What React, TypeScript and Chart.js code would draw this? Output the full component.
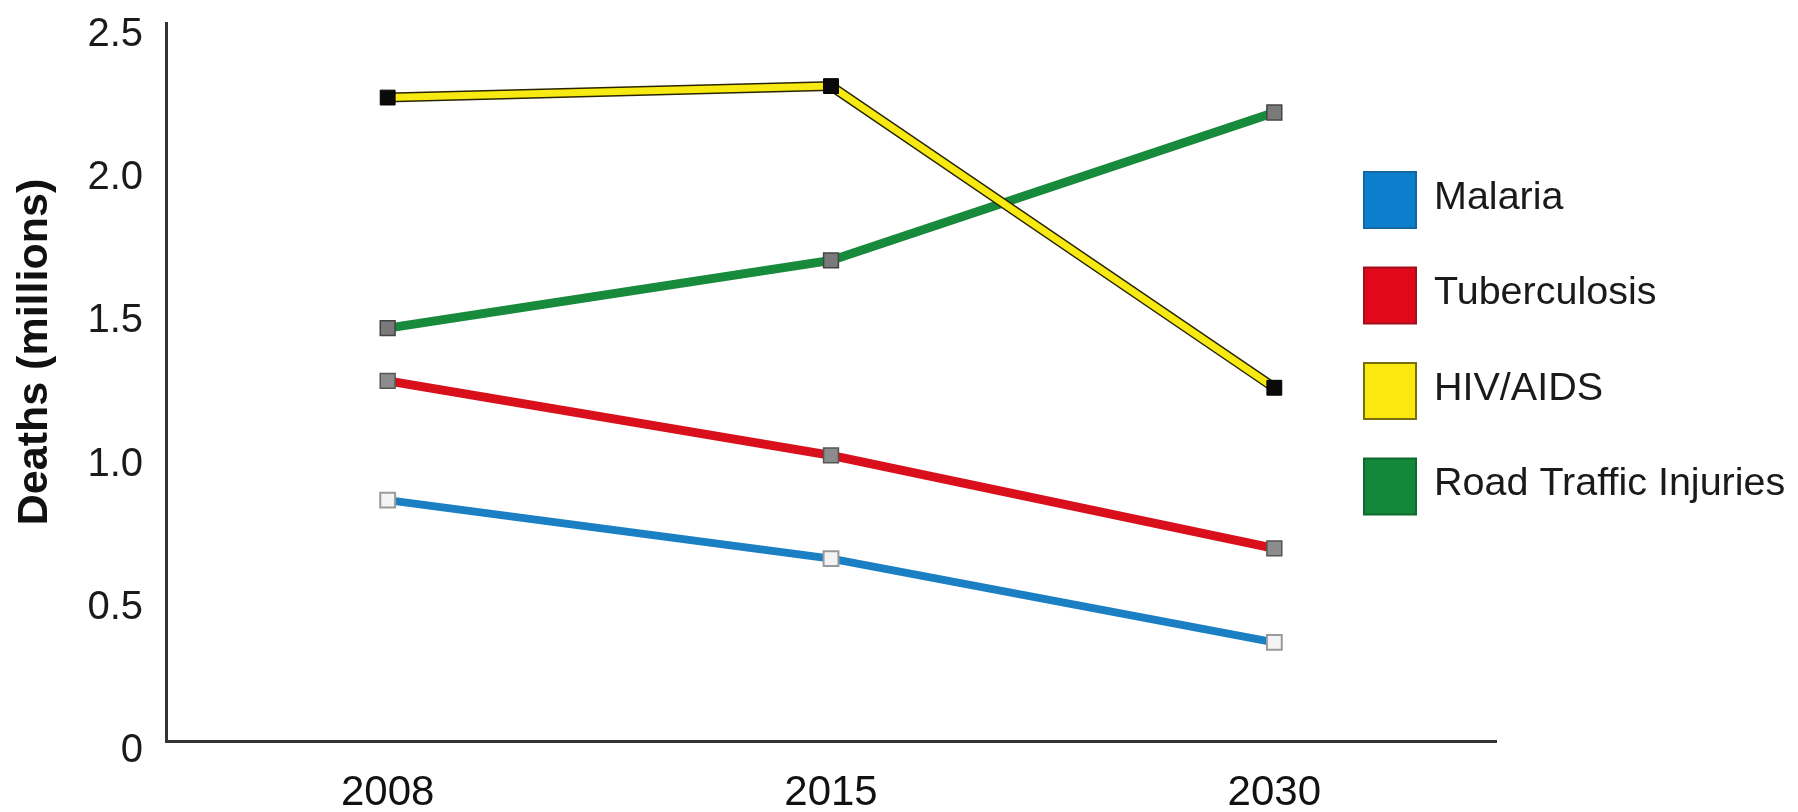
import React, { useEffect, useRef } from 'react';
import { Chart, registerables } from 'chart.js';

Chart.register(...registerables);

const years = ['2008', '2015', '2030'];
const malaria = [0.876, 0.672, 0.38];
const tuberculosis = [1.292, 1.032, 0.708];
const hivAids = [2.28, 2.32, 1.268];
const roadTraffic = [1.476, 1.712, 2.228];
const seriesNames = ['Malaria', 'Tuberculosis', 'HIV/AIDS', 'Road Traffic Injuries'];
const yTickValues = [0, 0.5, 1, 1.5, 2, 2.5];
const yTickLabels = ['0', '0.5', '1.0', '1.5', '2.0', '2.5'];
const yAxisTitle = 'Deaths (millions)';

const lineColors = ['#1b7fc4', '#d9101c', '#f6ea12', '#178a3b'];
const legendFill = ['#0b7fcb', '#e1081c', '#fbe80e', '#14883a'];
const legendStroke = ['#1565a0', '#a01018', '#7a6e10', '#0e6a2c'];

const FONT = '"Liberation Sans", Arial, sans-serif';

const outlinePlugin = {
  id: 'hivOutline',
  beforeDatasetDraw(chart: any, args: any) {
    if (args.index !== 2) return;
    const ctx = chart.ctx;
    const pts = args.meta.data;
    ctx.save();
    ctx.beginPath();
    pts.forEach((p: any, i: number) => (i ? ctx.lineTo(p.x, p.y) : ctx.moveTo(p.x, p.y)));
    ctx.lineWidth = 10;
    ctx.strokeStyle = '#2a2500';
    ctx.lineJoin = 'miter';
    ctx.stroke();
    ctx.restore();
  },
};

const customLegendPlugin = {
  id: 'customLegend',
  afterDraw(chart: any) {
    const ctx = chart.ctx;
    ctx.save();
    const boxX = 1364;
    const boxW = 52;
    const boxH = 56;
    const firstCenter = 200;
    const step = 95.5;
    const textX = 1434;
    seriesNames.forEach((name, i) => {
      const cy = firstCenter + i * step;
      ctx.fillStyle = legendFill[i];
      ctx.strokeStyle = legendStroke[i];
      ctx.lineWidth = 2;
      ctx.fillRect(boxX, cy - boxH / 2, boxW, boxH);
      ctx.strokeRect(boxX, cy - boxH / 2, boxW, boxH);
      ctx.fillStyle = '#1a1a1a';
      ctx.font = `39.5px ${FONT}`;
      ctx.textAlign = 'left';
      ctx.textBaseline = 'middle';
      ctx.fillText(name, textX, cy - 2);
    });
    // y axis title
    ctx.translate(35, 352);
    ctx.rotate(-Math.PI / 2);
    ctx.font = `bold 43px ${FONT}`;
    ctx.fillStyle = '#111';
    ctx.textAlign = 'center';
    ctx.textBaseline = 'middle';
    ctx.fillText(yAxisTitle, 0, 0);
    ctx.restore();
  },
};

export default function App() {
  const canvasRef = useRef<HTMLCanvasElement | null>(null);

  useEffect(() => {
    if (!canvasRef.current) return;
    const chart = new Chart(canvasRef.current, {
      type: 'line',
      data: {
        labels: years,
        datasets: [
          {
            label: seriesNames[0],
            data: malaria,
            borderColor: lineColors[0],
            borderWidth: 8,
            pointStyle: 'rect',
            pointRadius: 10.5,
            pointBackgroundColor: '#f4f4f4',
            pointBorderColor: '#9a9a9a',
            pointBorderWidth: 2,
          },
          {
            label: seriesNames[1],
            data: tuberculosis,
            borderColor: lineColors[1],
            borderWidth: 9,
            pointStyle: 'rect',
            pointRadius: 10.5,
            pointBackgroundColor: '#8c8c8c',
            pointBorderColor: '#555',
            pointBorderWidth: 1.5,
          },
          {
            label: seriesNames[2],
            data: hivAids,
            borderColor: lineColors[2],
            borderWidth: 7,
            pointStyle: 'rect',
            pointRadius: 10.5,
            pointBackgroundColor: '#0a0a0a',
            pointBorderColor: '#000',
            pointBorderWidth: 1,
          },
          {
            label: seriesNames[3],
            data: roadTraffic,
            borderColor: lineColors[3],
            borderWidth: 9,
            pointStyle: 'rect',
            pointRadius: 10.5,
            pointBackgroundColor: '#7a7a7a',
            pointBorderColor: '#444',
            pointBorderWidth: 1.5,
          },
        ],
      },
      options: {
        animation: false,
        responsive: true,
        maintainAspectRatio: false,
        layout: { padding: { top: 23, right: 302, left: 0, bottom: 0 } },
        plugins: {
          legend: { display: false },
          tooltip: { enabled: false },
        },
        scales: {
          x: {
            type: 'category',
            offset: true,
            grid: { display: false, drawTicks: true, tickLength: 28 },
            border: { color: '#333', width: 3 },
            ticks: {
              color: '#111',
              padding: 3,
              font: { size: 42, family: FONT, lineHeight: 1 },
            },
            afterFit: (s: any) => {
              s.height = 71;
            },
          },
          y: {
            min: 0.036,
            max: 2.54,
            grid: { display: false, drawTicks: true, tickLength: 20 },
            border: { color: '#333', width: 3 },
            afterBuildTicks: (s: any) => {
              s.ticks = yTickValues.map((v) => ({ value: v }));
            },
            ticks: {
              color: '#1a1a1a',
              padding: 3,
              font: { size: 40, family: FONT, lineHeight: 1 },
              callback: (v: any) => yTickLabels[yTickValues.indexOf(Number(v))] ?? '',
            },
            afterFit: (s: any) => {
              s.width = 166;
            },
          },
        },
      },
      plugins: [outlinePlugin, customLegendPlugin],
    } as any);
    return () => chart.destroy();
  }, []);

  return (
    <div style={{ position: 'fixed', left: 0, top: 0, width: 1798, height: 812, background: '#fff' }}>
      <canvas ref={canvasRef} />
    </div>
  );
}
